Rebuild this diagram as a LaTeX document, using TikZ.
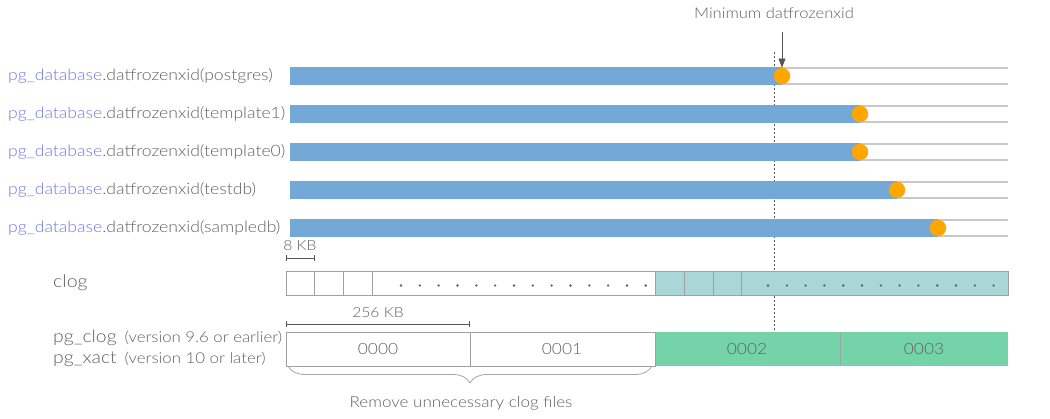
\documentclass[tikz,border=0pt]{standalone}
\usepackage{fontspec}
\setmainfont{Lato Light}[FakeStretch=1.12]
\usetikzlibrary{arrows.meta,decorations.pathreplacing}
\definecolor{txt}{HTML}{606060}
\definecolor{pgblue}{HTML}{6F78E0}
\definecolor{barblue}{HTML}{74A8D6}
\definecolor{dotorange}{HTML}{FFA700}
\definecolor{myteal}{HTML}{A9D6D6}
\definecolor{mygreen}{HTML}{74D3A9}
\definecolor{rulegray}{HTML}{C8C8C8}
\definecolor{cellgray}{HTML}{A0A0A0}
\definecolor{darkline}{HTML}{555555}
\tikzset{
  x=1pt,y=-1pt,
  rowlabel/.style={anchor=west,inner sep=0pt,text=txt,font=\fontsize{15.7}{18}\selectfont},
  barrule/.style={draw=rulegray,line width=1.2pt},
  orangedot/.style={circle,fill=dotorange,minimum size=16.5pt,inner sep=0pt},
  cell/.style={draw=cellgray,line width=0.7pt},
  celltext/.style={text=txt,font=\fontsize{15.5}{17}\selectfont},
  smalldot/.style={circle,fill=txt,minimum size=2.6pt,inner sep=0pt},
  dimline/.style={draw=darkline,line width=0.8pt,{Bar[width=6pt]}-{Bar[width=6pt]}},
}
\begin{document}
\begin{tikzpicture}
\useasboundingbox (0,0) rectangle (1050,419);
% title and arrow
\node[text=txt,font=\fontsize{14.8}{16}\selectfont] (title) at (774,13) {Minimum datfrozenxid};
\coordinate (arrtop) at (782,32);
% dashed line
\coordinate (dashtop) at (774.5,52);
\coordinate (dashbot) at (774.5,332);
\draw[darkline,line width=0.6pt,dash pattern=on 2pt off 2pt] (dashtop) -- (dashbot);
% rows
\foreach \y/\dx/\name/\db in {76/782/r1/postgres,114/860/r2/template1,152/860/r3/template0,190/897/r4/testdb,228/938/r5/sampledb}{
  \draw[barrule] (290,\y-8) -- (1008,\y-8);
  \draw[barrule] (290,\y+8) -- (1008,\y+8);
  \fill[barblue] (290,\y-8.6) rectangle (\dx,\y+8.6);
  \node[orangedot] (\name) at (\dx,\y) {};
  \node[rowlabel] (\name lab) at (8,\y) {\textcolor{pgblue}{pg\_database}.datfrozenxid(\db)};
}
\draw[darkline,line width=0.8pt,-{Triangle[width=7pt,length=9pt]}] (arrtop) -- (r1.north);
% 8 KB dimension
\coordinate (kbA) at (286,258);
\coordinate (kbB) at (314.5,258);
\draw[dimline] (kbA) -- (kbB);
\node[text=txt,font=\fontsize{14}{16}\selectfont] (kb8) at (300,246) {8 KB};
% clog row
\node[text=txt,font=\fontsize{17.5}{19}\selectfont,anchor=west,inner sep=0pt] (cloglab) at (53,283) {clog};
\fill[myteal] (655,271) rectangle (1008,295.5);
\draw[cell] (286,271) rectangle (1008,295.5);
\foreach \xx in {314.5,343,372,655,684,713,741.5}{
  \draw[cell] (\xx,271) -- (\xx,295.5);
}
\foreach \i in {0,...,13}{
  \node[smalldot] at (401+\i*18.83,285.5) {};
}
\foreach \i in {0,...,12}{
  \node[smalldot] at (768+\i*18.8,285.5) {};
}
% 256 KB dimension
\coordinate (dA) at (286,324.5);
\coordinate (dB) at (470,324.5);
\draw[dimline] (dA) -- (dB);
\node[text=txt,font=\fontsize{14}{16}\selectfont] (kb256) at (378,313) {256 KB};
% pg_clog row
\node[text=txt,anchor=west,inner sep=0pt] (clab1) at (53,338) {{\fontsize{17.3}{19}\selectfont pg\_clog}\hspace{8pt}{\fontsize{15}{16}\selectfont (version 9.6 or earlier)}};
\node[text=txt,anchor=west,inner sep=0pt] (clab2) at (53,359) {{\fontsize{17.3}{19}\selectfont pg\_xact}\hspace{8pt}{\fontsize{15}{16}\selectfont (version 10 or later)}};
\fill[mygreen] (655,332.5) rectangle (1008,366);
\draw[cell] (286,332.5) rectangle (655,366);
\draw[cell] (470,332.5) -- (470,366);
\draw[draw=cellgray!80!mygreen,line width=0.7pt] (840,332.5) -- (840,366);
\node[celltext] (f0) at (378,349) {0000};
\node[celltext] (f1) at (562,349) {0001};
\node[celltext] (f2) at (747,349) {0002};
\node[celltext] (f3) at (924,349) {0003};
% brace
\coordinate (brA) at (288,366);
\coordinate (brB) at (652,366);
\draw[rulegray!70!darkline,line width=0.8pt,decorate,decoration={brace,mirror,amplitude=17pt,aspect=0.5}] (brA) -- (brB);
\node[text=txt,font=\fontsize{15.2}{17}\selectfont] (remove) at (461,403) {Remove unnecessary clog files};
\end{tikzpicture}
\end{document}
